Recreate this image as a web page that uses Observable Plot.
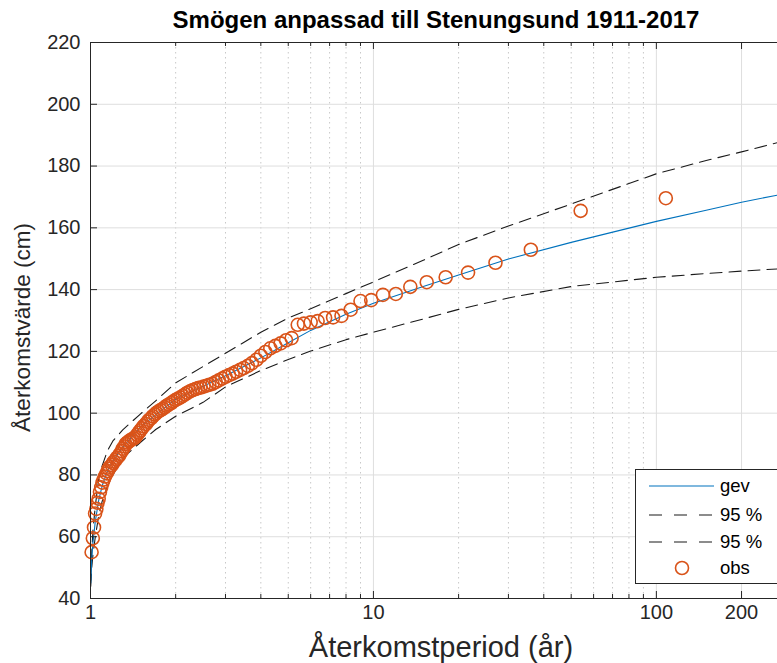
<!DOCTYPE html>
<html><head><meta charset="utf-8">
<script src="https://cdn.jsdelivr.net/npm/d3@7"></script>
<script src="https://cdn.jsdelivr.net/npm/@observablehq/plot@0.6"></script>
<style>
body{margin:0;background:#fff;font-family:"Liberation Sans",Arial,sans-serif;}
#wrap{position:relative;width:777px;height:663px;overflow:hidden;background:#fff;}
#legend{position:absolute;left:635px;top:469px;width:160px;height:115px;box-sizing:border-box;border:1px solid #262626;background:#fff;}
#legend svg{display:block;}
</style></head><body><div id="wrap"></div>
<script>
const title = "Smögen anpassad till Stenungsund 1911-2017";
const xLabel = "Återkomstperiod (år)";
const yLabel = "Återkomstvärde (cm)";

// observations: return period (år) and value (cm), rank 1..107
const obsT = [108,54,36,27,21.6,18,15.43,13.5,12,10.8,
  9.82,9,8.31,7.71,7.2,6.75,6.35,6,5.68,5.4,
  5.14,4.91,4.7,4.5,4.32,4.15,4,3.86,3.72,3.6,
  3.48,3.38,3.27,3.18,3.09,3,2.92,2.84,2.77,2.7,
  2.63,2.57,2.51,2.45,2.4,2.35,2.3,2.25,2.2,2.16,
  2.12,2.08,2.04,2,1.96,1.93,1.89,1.86,1.83,1.8,
  1.77,1.74,1.71,1.69,1.66,1.64,1.61,1.59,1.57,1.54,
  1.52,1.5,1.48,1.46,1.44,1.42,1.4,1.38,1.37,1.35,
  1.33,1.32,1.3,1.29,1.27,1.26,1.24,1.23,1.21,1.2,
  1.19,1.17,1.16,1.15,1.14,1.125,1.113,1.102,1.091,1.08,
  1.069,1.059,1.049,1.038,1.029,1.019,1.009];
const obsValue = [169.6,165.5,152.9,148.7,145.5,144.0,142.4,140.9,138.6,138.3,
  136.6,136.3,133.5,131.5,131.0,130.8,129.8,129.4,129.0,128.6,
  124.3,123.6,122.6,121.8,121.0,119.8,118.6,117.3,116.2,115.3,
  114.6,114.0,113.4,112.8,112.3,111.8,111.2,110.6,110.1,109.5,
  109.2,108.9,108.6,108.3,108.1,107.8,107.5,107.1,106.6,106.1,
  105.6,105.1,104.7,104.3,103.8,103.3,102.8,102.4,101.9,101.4,
  101.0,100.6,100.1,99.6,99.0,98.4,97.8,97.2,96.5,95.8,
  95.1,94.4,93.7,93.0,92.2,91.8,91.5,91.2,90.9,90.5,
  90.0,89.2,88.5,87.7,86.8,86.2,85.6,85.0,84.3,83.8,
  83.2,82.6,82.0,81.3,80.5,79.5,78.5,77.5,76.0,74.5,
  72.3,71.0,69.0,67.5,63.0,59.5,55.0];

// fitted curve and 95 % bounds, read at these return periods
const curveT  = [1.002,1.01,1.02,1.04,1.07,1.1,1.15,1.2,1.3,1.5,1.7,2,2.5,3,4,5,6,8,10,15,20,30,50,100,150,200,268];
const gev     = [45,53,58,65,72,76.5,81.5,84.5,89,95.5,99.5,104.5,108.7,112.1,117.9,122.8,126.8,132.0,135.6,141.0,144.7,149.9,155.3,162.1,165.7,168.3,170.6];
const upper95 = [46,55,62,70,79,83,88,91,94.6,99.7,104,109.8,115.1,119.4,126.2,130.8,133.8,138.7,142.5,149.5,154.6,160.6,167.7,177.5,181.8,184.6,187.6];
const lower95 = [44,50,54,60,67,71.5,76.5,80,85.5,90.5,94.7,99,103.5,108.5,113.8,117.4,120.1,123.8,126.2,130.5,133.6,137.3,141,144,145.2,146,146.7];

const yTicks = [40,60,80,100,120,140,160,180,200,220];
const xMajorTicks = [1,10,100,200];
const xMinorTicks = [2,3,4,5,6,7,8,9,20,30,40,50,60,70,80,90];
const legendLabels = ["gev","95 %","95 %","obs"];

const W = 777, H = 663, mt = 42, mb = 65, ml = 90, mr = 0;
const pw = W - ml - mr, ph = H - mt - mb;
const ink = "#262626";
const blue = "#0072BD", orange = "#D95319", dashInk = "#1a1a1a";
const font = "Liberation Sans, Arial, Helvetica, sans-serif";

const obs = obsT.map((t, i) => ({t, v: obsValue[i]}));
const curve = curveT.map((t, i) => ({t, g: gev[i], up: upper95[i], lo: lower95[i]}));

const chart = Plot.plot({
  width: W, height: H,
  marginTop: mt, marginBottom: mb, marginLeft: ml, marginRight: mr,
  style: {fontFamily: font, fontSize: "20px", color: ink, background: "#fff", overflow: "visible"},
  x: {type: "log", domain: [1, 268]},
  y: {domain: [40, 220]},
  marks: [
    Plot.ruleX(xMinorTicks, {stroke: "#c8c8c8", strokeDasharray: "1.5,3.5", strokeWidth: 1}),
    Plot.ruleX(xMajorTicks.slice(1), {stroke: "#dedede", strokeWidth: 1}),
    Plot.ruleY(yTicks.slice(1), {stroke: "#dedede", strokeWidth: 1}),
    Plot.line(curve, {x: "t", y: "up", stroke: dashInk, strokeWidth: 1.1, strokeDasharray: "12,7", clip: true}),
    Plot.line(curve, {x: "t", y: "lo", stroke: dashInk, strokeWidth: 1.1, strokeDasharray: "12,7", clip: true}),
    Plot.line(curve, {x: "t", y: "g", stroke: blue, strokeWidth: 1.1, clip: true}),
    Plot.dot(obs, {x: "t", y: "v", r: 6.5, stroke: orange, strokeWidth: 1.6, fill: "none"}),
    // frame lines
    Plot.ruleX([1], {stroke: ink, strokeWidth: 1}),
    Plot.ruleY([40], {stroke: ink, strokeWidth: 1}),
    Plot.ruleY([220], {stroke: ink, strokeWidth: 1}),
    // inward ticks
    Plot.tickY(yTicks, {y: d => d, stroke: ink, insetRight: pw - 7}),
    Plot.tickX(xMajorTicks, {x: d => d, stroke: ink, insetTop: ph - 7}),
    Plot.tickX(xMajorTicks, {x: d => d, stroke: ink, insetBottom: ph - 7}),
    Plot.tickX(xMinorTicks, {x: d => d, stroke: ink, insetTop: ph - 4}),
    Plot.tickX(xMinorTicks, {x: d => d, stroke: ink, insetBottom: ph - 4}),
    // axes labels
    Plot.axisY({ticks: yTicks, tickSize: 0, tickPadding: 10, label: null, fontSize: 20}),
    Plot.axisX({ticks: xMajorTicks, tickSize: 0, tickPadding: 6, tickFormat: d => String(d), label: null, fontSize: 20}),
    Plot.text([title], {frameAnchor: "top", dy: -22, dx: 2, text: d => d, lineAnchor: "middle", textAnchor: "middle", fontWeight: "bold", fontSize: 24, fill: "#000"}),
    Plot.text([xLabel], {frameAnchor: "bottom", dy: 49, dx: 7, text: d => d, lineAnchor: "middle", textAnchor: "middle", fontSize: 29, fill: ink}),
    Plot.text([yLabel], {frameAnchor: "left", dx: -68, dy: 7, text: d => d, rotate: -90, lineAnchor: "middle", textAnchor: "middle", fontSize: 22.5, fill: ink})
  ]
});
const wrap = document.getElementById("wrap");
wrap.appendChild(chart);

// legend
const leg = document.createElement("div");
leg.id = "legend";
wrap.appendChild(leg);
const rowsY = [16, 45, 72, 98];
const svg = d3.select(leg).append("svg").attr("width", 160).attr("height", 113)
  .style("font-family", font).style("font-size", "18.5px");
legendLabels.forEach((lab, i) => {
  const y = rowsY[i];
  if (i === 0) {
    svg.append("line").attr("x1", 13).attr("x2", 78).attr("y1", y).attr("y2", y).attr("stroke", blue).attr("stroke-width", 1.1);
  } else if (i < 3) {
    svg.append("line").attr("x1", 13).attr("x2", 78).attr("y1", y).attr("y2", y).attr("stroke", dashInk).attr("stroke-width", 1.1).attr("stroke-dasharray", "13,12");
  } else {
    svg.append("circle").attr("cx", 46).attr("cy", y).attr("r", 6.5).attr("fill", "none").attr("stroke", orange).attr("stroke-width", 1.6);
  }
  svg.append("text").attr("x", 84).attr("y", y).attr("dy", "0.35em").attr("fill", "#000").text(lab);
});
</script></body></html>
